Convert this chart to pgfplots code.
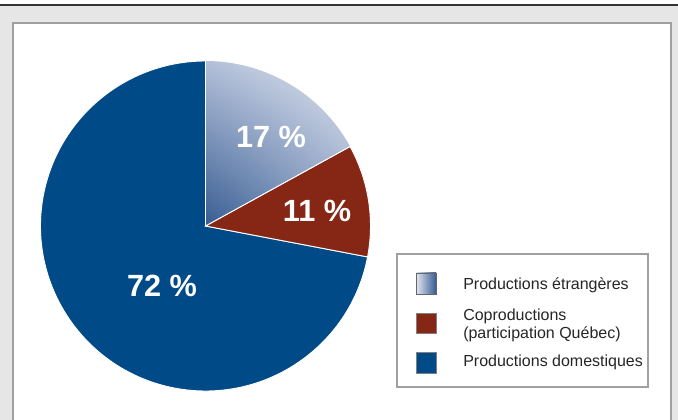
\documentclass[border=0pt]{standalone}
\usepackage{fontspec}
\setmainfont{Liberation Sans}
\usepackage{pgfplots}
\usepackage{pgfplotstable}
\pgfplotsset{compat=1.18}
\usetikzlibrary{shadings}
\definecolor{domblue}{RGB}{0,75,135}
\definecolor{coprred}{RGB}{134,39,22}
\definecolor{gradlight}{RGB}{226,230,240}
\definecolor{gradmidA}{RGB}{178,191,216}
\definecolor{gradmidB}{RGB}{140,160,196}
\definecolor{graddark}{RGB}{55,92,146}
\definecolor{bggray}{RGB}{230,230,230}
\definecolor{framegray}{RGB}{160,160,160}

\pgfplotstableread{
label value
etrangeres 17
coproductions 11
domestiques 72
}\piedata

\begin{document}
\begin{tikzpicture}
\pgfplotstablegetelem{0}{value}\of\piedata \let\va\pgfplotsretval
\pgfplotstablegetelem{1}{value}\of\piedata \let\vb\pgfplotsretval
\pgfplotstablegetelem{2}{value}\of\piedata \let\vc\pgfplotsretval
\pgfmathsetmacro\aA{90}
\pgfmathsetmacro\aB{\aA-3.6*\va}
\pgfmathsetmacro\aC{\aB-3.6*\vb}
\pgfmathsetmacro\aD{\aC-3.6*\vc}
\def\R{123.75pt}
\begin{axis}[
  x=0.75pt, y=0.75pt,
  xmin=0, xmax=678, ymin=0, ymax=420,
  hide axis,
]
% background frame
\fill[white] (axis cs:0,0) rectangle (axis cs:678,420);
\fill[bggray] (axis cs:0,0) rectangle (axis cs:678,414.5);
\draw[black!80, line width=1.5pt] (axis cs:0,415) -- (axis cs:678,415);
\fill[white] (axis cs:13,-10) rectangle (axis cs:671,397);
\draw[framegray, line width=1.4pt] (axis cs:13,-10) rectangle (axis cs:671,397);
% pie
\fill[domblue, draw=white, line width=0.7pt] (axis cs:205.5,194) -- +(\aC:\R) arc[start angle=\aC, end angle=\aD, radius=\R] -- cycle;
\fill[coprred, draw=white, line width=0.7pt] (axis cs:205.5,194) -- +(\aB:\R) arc[start angle=\aB, end angle=\aC, radius=\R] -- cycle;
\shade[lower left=graddark, upper right=gradlight, upper left=gradmidA, lower right=gradmidB] (axis cs:205.5,194) -- +(\aA:\R) arc[start angle=\aA, end angle=\aB, radius=\R] -- cycle;
\draw[white, line width=0.7pt] (axis cs:205.5,194) -- +(\aA:\R);
\draw[white, line width=0.7pt] (axis cs:205.5,194) -- +(\aB:\R);
% labels
\node[text=white, font=\bfseries\fontsize{23}{23}\selectfont] at (axis cs:271,283.5) {17 \%};
\node[text=white, font=\bfseries\fontsize{23}{23}\selectfont] at (axis cs:317,209) {11 \%};
\node[text=white, font=\bfseries\fontsize{23}{23}\selectfont] at (axis cs:162,134) {72 \%};
% legend
\fill[white] (axis cs:397,33) rectangle (axis cs:648,166);
\draw[framegray, line width=0.9pt] (axis cs:397,33) rectangle (axis cs:648,166);
\shade[left color=gradlight, right color=graddark] (axis cs:416,126) rectangle (axis cs:436,147);
\draw[black!60, line width=0.4pt] (axis cs:416,126) rectangle (axis cs:436,147);
\fill[coprred, draw=black!50, line width=0.4pt] (axis cs:416,87) rectangle (axis cs:436,107);
\fill[domblue, draw=black!50, line width=0.4pt] (axis cs:416,47) rectangle (axis cs:436,68);
\node[anchor=west, inner sep=0pt, font=\fontsize{12}{12}\selectfont, text=black!85] at (axis cs:463,135) {Productions étrangères};
\node[anchor=west, inner sep=0pt, align=left, font=\fontsize{12}{13.5}\selectfont, text=black!85] at (axis cs:463,95) {Coproductions\\(participation Québec)};
\node[anchor=west, inner sep=0pt, font=\fontsize{12}{12}\selectfont, text=black!85] at (axis cs:463,58) {Productions domestiques};
\end{axis}
\end{tikzpicture}
\end{document}
